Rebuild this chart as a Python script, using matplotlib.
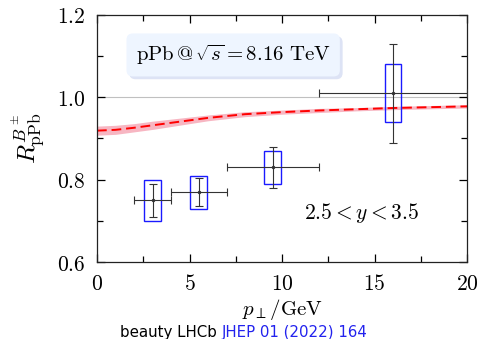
import matplotlib.pyplot as plt
import numpy as np
from matplotlib.ticker import MultipleLocator
import matplotlib.patheffects as pe

plt.rcParams["mathtext.fontset"] = "cm"
plt.rcParams["font.family"] = "serif"
plt.rcParams["font.serif"] = ["DejaVu Serif"]

# LHCb B+- data
pt = [3.0, 5.5, 9.5, 16.0]
pt_lo = [2.0, 4.0, 7.0, 12.0]
pt_hi = [4.0, 7.0, 12.0, 20.0]
r_val = [0.750, 0.770, 0.830, 1.010]
r_stat = [0.040, 0.033, 0.050, 0.120]
r_syst = [0.050, 0.040, 0.040, 0.070]

# theory curve
th_pt = [0, 1, 2, 3, 4, 5, 6, 8, 10, 12, 14, 16, 18, 20]
th_mid = [0.919, 0.921, 0.926, 0.932, 0.938, 0.944, 0.950, 0.959, 0.964, 0.968, 0.971, 0.974, 0.976, 0.978]
th_err = [0.011, 0.011, 0.010, 0.010, 0.009, 0.008, 0.007, 0.006, 0.005, 0.005, 0.004, 0.004, 0.004, 0.004]

fig = plt.figure(figsize=(4.79, 3.39), dpi=100)
ax = fig.add_axes([0.2025, 0.227, 0.7725, 0.729])

ax.axhline(1.0, color="#c0c0c0", lw=0.8, zorder=0)

th_mid = np.array(th_mid)
th_err = np.array(th_err)
ax.fill_between(th_pt, th_mid - th_err, th_mid + th_err, color="#f7b6c2", lw=0, zorder=1)
ax.plot(th_pt, th_mid, color="red", ls=(0, (5, 2.5)), lw=1.4, zorder=2)

for x, y, sy in zip(pt, r_val, r_syst):
    ax.add_patch(plt.Rectangle((x - 0.45, y - sy), 0.9, 2 * sy, fill=False,
                               edgecolor="#1a1aff", lw=1.0, zorder=3))
ax.errorbar(pt, r_val, yerr=r_stat,
            xerr=[np.array(pt) - np.array(pt_lo), np.array(pt_hi) - np.array(pt)],
            fmt="o", ms=1.5, color="#333333", ecolor="#333333", elinewidth=0.8,
            capsize=3, capthick=0.8, zorder=4)

ax.set_xlim(0, 20)
ax.set_ylim(0.6, 1.2)
ax.xaxis.set_minor_locator(MultipleLocator(2.5))
ax.yaxis.set_minor_locator(MultipleLocator(0.1))
ax.set_xticks([0, 5, 10, 15, 20])
ax.set_xticklabels(["$0$", "$5$", "$10$", "$15$", "$20$"])
ax.set_yticks([0.6, 0.8, 1.0, 1.2])
ax.set_yticklabels(["$0.6$", "$0.8$", "$1.0$", "$1.2$"])
ax.tick_params(which="both", direction="in", top=True, right=True, labelsize=15.5, width=0.9)
ax.tick_params(which="major", length=6, pad=8)
ax.tick_params(which="minor", length=4)
for s in ax.spines.values():
    s.set_linewidth(0.9)
    s.set_color("#222222")

ax.set_xlabel(r"$p_\perp/\mathrm{GeV}$", fontsize=15, labelpad=1)
ax.set_ylabel(r"$R^{B^\pm}_{\mathrm{pPb}}$", fontsize=18, labelpad=7)

t = ax.text(0.368, 0.838, r"$\mathrm{pPb}\,@\,\sqrt{s}=8.16\ \mathrm{TeV}$",
            transform=ax.transAxes, ha="center", va="center", fontsize=15,
            bbox=dict(boxstyle="round,pad=0.45,rounding_size=0.3", facecolor="#eef5ff",
                      edgecolor="none"))
t.get_bbox_patch().set_path_effects([
    pe.SimplePatchShadow(offset=(2, -2), shadow_rgbFace="#dde3f5", alpha=1.0),
    pe.Normal()])
ax.text(0.714, 0.198, r"$2.5<y<3.5$", transform=ax.transAxes, ha="center", va="center",
        fontsize=15.5)

t1 = fig.text(120 / 479, 0.020, "beauty LHCb ", ha="left", va="center", fontsize=10.8,
              family="DejaVu Sans")
fig.canvas.draw()
bb = t1.get_window_extent()
fig.text(bb.x1 / fig.bbox.width, 0.020, "JHEP 01 (2022) 164", ha="left", va="center",
         fontsize=10.8, family="DejaVu Sans", color="#2222ee")

fig.savefig("out.png", dpi=100)
